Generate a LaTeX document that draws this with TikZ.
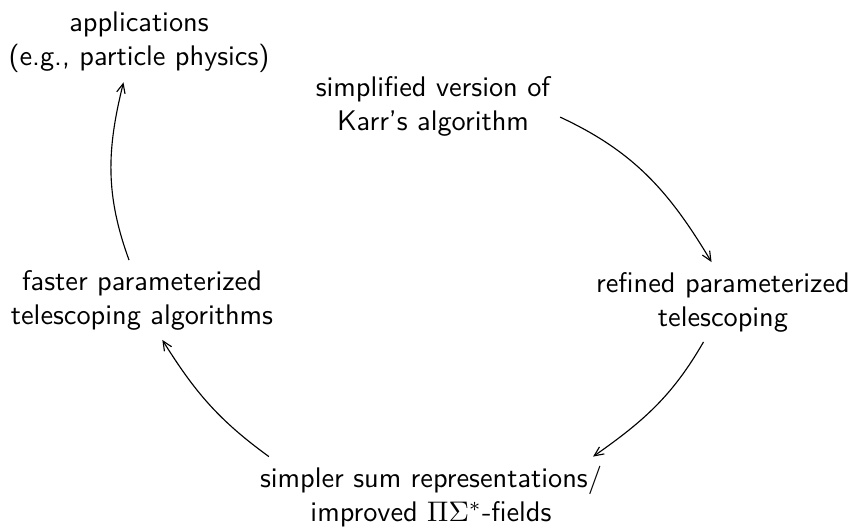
\documentclass[tikz,border=0pt]{standalone}
\usetikzlibrary{arrows.meta}
\begin{document}
\begin{tikzpicture}[x=0.3528pt,y=-0.3528pt,
  lbl/.style={align=center,font=\sffamily},
  arr/.style={-{Straight Barb[length=3.3pt,width=3pt]},line width=0.4pt}]
\useasboundingbox (0,0) rectangle (855,529);
\node[lbl] (app) at (139,42) {applications\\(e.g., particle physics)};
\node[lbl] (simp) at (433,106) {simplified version of\\Karr's algorithm};
\node[lbl] (ref) at (723,302) {refined parameterized\\telescoping};
\node[lbl] (sim) at (431,497) {simpler sum representations/\\improved $\Pi\Sigma^*$-fields};
\node[lbl] (fast) at (142,300) {faster parameterized\\telescoping algorithms};
\draw[arr] (simp.-5) to[out=-25,in=121] (ref.106);
\draw[arr] (ref.-116) to[out=-120,in=35] (sim.14);
\draw[arr] (sim.166) to[out=144,in=-58] (fast.-63);
\draw[arr] (fast.108) to[out=110,in=-104] (app.-111);
\end{tikzpicture}
\end{document}
